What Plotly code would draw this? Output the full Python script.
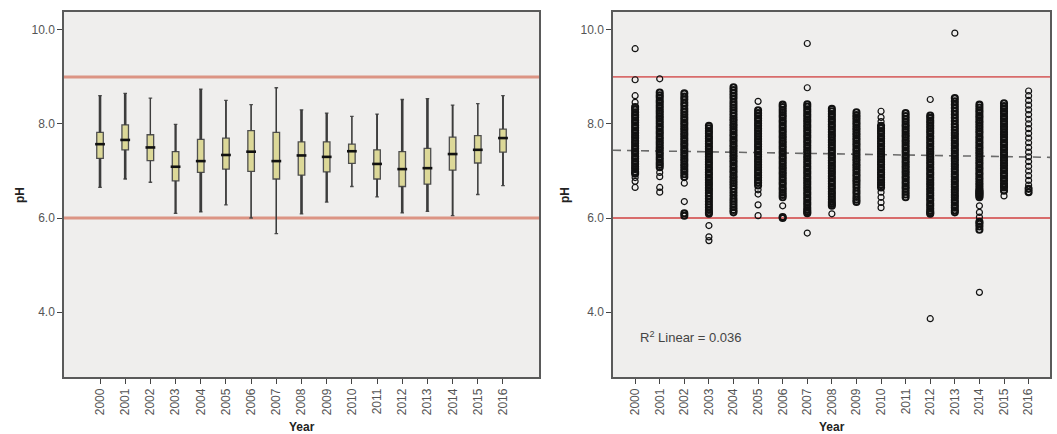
import plotly.graph_objects as go

# ---------------- data ----------------
years = list(range(2000, 2017))
year_labels = [str(y) for y in years]

# Box plot statistics (left panel)
box_upper = [8.60, 8.65, 8.55, 7.99, 8.74, 8.50, 8.41, 8.77, 8.30, 8.23, 8.16, 8.21, 8.52, 8.54, 8.40, 8.43, 8.60]
box_q3 = [7.82, 7.98, 7.77, 7.41, 7.67, 7.70, 7.86, 7.82, 7.62, 7.62, 7.57, 7.45, 7.41, 7.48, 7.72, 7.75, 7.89]
box_median = [7.57, 7.66, 7.50, 7.09, 7.21, 7.34, 7.41, 7.21, 7.33, 7.30, 7.42, 7.15, 7.04, 7.06, 7.36, 7.45, 7.70]
box_q1 = [7.27, 7.45, 7.22, 6.79, 6.97, 7.04, 6.99, 6.83, 6.91, 6.98, 7.16, 6.83, 6.67, 6.72, 7.02, 7.17, 7.40]
box_lower = [6.65, 6.83, 6.76, 6.10, 6.13, 6.28, 6.00, 5.67, 6.09, 6.34, 6.67, 6.45, 6.11, 6.14, 6.05, 6.50, 6.69]

# Individual pH readings (right panel)
y2000 = [9.60, 8.94, 8.60, 8.46, 8.36, 8.31, 8.25, 8.19, 8.14, 8.08, 8.03, 7.97, 7.92, 7.86, 7.81, 7.75, 7.70, 7.64, 7.59, 7.53, 7.48, 7.42, 7.37, 7.31, 7.26, 7.20, 7.15, 7.09, 7.04, 6.98, 6.94, 6.86, 6.78, 6.65]
y2001 = [8.96, 8.67, 8.61, 8.56, 8.50, 8.45, 8.39, 8.34, 8.28, 8.23, 8.17, 8.12, 8.06, 8.01, 7.95, 7.90, 7.84, 7.79, 7.73, 7.68, 7.62, 7.57, 7.51, 7.46, 7.40, 7.35, 7.29, 7.24, 7.18, 7.13, 7.08, 6.97, 6.88, 6.65, 6.55]
y2002 = [8.65, 8.58, 8.52, 8.45, 8.39, 8.32, 8.26, 8.20, 8.14, 8.09, 8.03, 7.98, 7.92, 7.87, 7.81, 7.76, 7.70, 7.65, 7.59, 7.54, 7.48, 7.43, 7.37, 7.32, 7.26, 7.21, 7.15, 7.10, 7.04, 6.99, 6.93, 6.87, 6.74, 6.35, 6.10, 6.05]
y2003 = [7.96, 7.91, 7.85, 7.80, 7.74, 7.69, 7.63, 7.58, 7.52, 7.47, 7.41, 7.36, 7.30, 7.25, 7.19, 7.14, 7.08, 7.03, 6.97, 6.92, 6.86, 6.81, 6.75, 6.70, 6.64, 6.59, 6.53, 6.47, 6.41, 6.35, 6.29, 6.23, 6.17, 6.12, 6.09, 5.84, 5.60, 5.52]
y2004 = [8.78, 8.72, 8.66, 8.60, 8.54, 8.47, 8.41, 8.35, 8.29, 8.23, 8.17, 8.11, 8.06, 8.00, 7.95, 7.89, 7.84, 7.78, 7.73, 7.67, 7.62, 7.56, 7.51, 7.45, 7.40, 7.34, 7.29, 7.23, 7.18, 7.12, 7.07, 7.01, 6.96, 6.90, 6.85, 6.79, 6.74, 6.68, 6.62, 6.55, 6.48, 6.41, 6.35, 6.29, 6.23, 6.17, 6.12]
y2005 = [8.48, 8.29, 8.23, 8.18, 8.12, 8.07, 8.01, 7.96, 7.90, 7.85, 7.79, 7.74, 7.68, 7.63, 7.57, 7.52, 7.46, 7.41, 7.35, 7.30, 7.24, 7.19, 7.13, 7.08, 7.02, 6.97, 6.91, 6.86, 6.80, 6.75, 6.69, 6.60, 6.51, 6.28, 6.05]
y2006 = [8.41, 8.36, 8.30, 8.25, 8.19, 8.14, 8.08, 8.03, 7.97, 7.92, 7.86, 7.81, 7.75, 7.70, 7.64, 7.59, 7.53, 7.48, 7.42, 7.37, 7.31, 7.26, 7.20, 7.15, 7.09, 7.04, 6.98, 6.93, 6.87, 6.82, 6.76, 6.71, 6.65, 6.60, 6.54, 6.49, 6.44, 6.26, 6.02, 6.00]
y2007 = [9.71, 8.77, 8.42, 8.37, 8.31, 8.26, 8.20, 8.15, 8.09, 8.04, 7.98, 7.93, 7.87, 7.82, 7.76, 7.71, 7.65, 7.60, 7.54, 7.49, 7.43, 7.38, 7.32, 7.27, 7.21, 7.16, 7.10, 7.05, 6.99, 6.94, 6.88, 6.83, 6.77, 6.72, 6.66, 6.61, 6.55, 6.50, 6.44, 6.39, 6.33, 6.28, 6.22, 6.17, 6.13, 6.10, 5.68]
y2008 = [8.32, 8.27, 8.21, 8.16, 8.10, 8.05, 7.99, 7.94, 7.88, 7.83, 7.77, 7.72, 7.66, 7.61, 7.55, 7.50, 7.44, 7.39, 7.33, 7.28, 7.22, 7.17, 7.11, 7.06, 7.00, 6.95, 6.89, 6.84, 6.78, 6.73, 6.67, 6.62, 6.56, 6.51, 6.45, 6.40, 6.34, 6.30, 6.26, 6.09]
y2009 = [8.25, 8.19, 8.14, 8.09, 8.03, 7.98, 7.92, 7.87, 7.81, 7.76, 7.70, 7.65, 7.59, 7.54, 7.48, 7.43, 7.37, 7.32, 7.26, 7.21, 7.15, 7.10, 7.04, 6.99, 6.93, 6.88, 6.82, 6.77, 6.71, 6.65, 6.58, 6.52, 6.45, 6.39, 6.34]
y2010 = [8.27, 8.14, 8.05, 7.96, 7.91, 7.85, 7.80, 7.74, 7.69, 7.63, 7.58, 7.52, 7.47, 7.41, 7.36, 7.30, 7.25, 7.19, 7.14, 7.08, 7.03, 6.97, 6.92, 6.86, 6.81, 6.75, 6.70, 6.65, 6.55, 6.44, 6.33, 6.22]
y2011 = [8.23, 8.17, 8.11, 8.05, 7.99, 7.94, 7.88, 7.83, 7.77, 7.72, 7.66, 7.61, 7.55, 7.50, 7.44, 7.39, 7.33, 7.28, 7.22, 7.17, 7.11, 7.06, 7.00, 6.95, 6.89, 6.84, 6.78, 6.73, 6.67, 6.62, 6.56, 6.50, 6.44]
y2012 = [8.52, 8.18, 8.13, 8.07, 8.02, 7.96, 7.91, 7.85, 7.80, 7.74, 7.69, 7.63, 7.58, 7.52, 7.47, 7.41, 7.36, 7.30, 7.25, 7.19, 7.14, 7.08, 7.03, 6.97, 6.92, 6.86, 6.81, 6.75, 6.70, 6.64, 6.59, 6.53, 6.48, 6.42, 6.37, 6.31, 6.26, 6.20, 6.15, 6.11, 6.09, 3.86]
y2013 = [9.93, 8.55, 8.48, 8.41, 8.34, 8.27, 8.20, 8.13, 8.06, 7.99, 7.93, 7.87, 7.81, 7.76, 7.70, 7.65, 7.59, 7.54, 7.48, 7.43, 7.37, 7.32, 7.26, 7.21, 7.15, 7.10, 7.04, 6.99, 6.93, 6.88, 6.82, 6.77, 6.71, 6.66, 6.60, 6.55, 6.49, 6.44, 6.38, 6.33, 6.27, 6.22, 6.16, 6.12]
y2014 = [8.41, 8.35, 8.29, 8.24, 8.18, 8.13, 8.07, 8.02, 7.96, 7.91, 7.85, 7.80, 7.74, 7.69, 7.63, 7.58, 7.52, 7.47, 7.41, 7.36, 7.30, 7.25, 7.19, 7.14, 7.08, 7.03, 6.97, 6.92, 6.86, 6.81, 6.75, 6.70, 6.65, 6.60, 6.57, 6.55, 6.52, 6.50, 6.47, 6.44, 6.26, 6.12, 6.02, 5.92, 5.88, 5.82, 5.75, 4.42]
y2015 = [8.44, 8.38, 8.33, 8.27, 8.22, 8.16, 8.11, 8.05, 8.00, 7.94, 7.89, 7.83, 7.78, 7.72, 7.67, 7.61, 7.56, 7.50, 7.45, 7.39, 7.34, 7.28, 7.23, 7.17, 7.12, 7.06, 7.01, 6.95, 6.90, 6.84, 6.79, 6.73, 6.68, 6.65, 6.58, 6.47]
y2016 = [8.70, 8.60, 8.50, 8.40, 8.30, 8.20, 8.10, 8.00, 7.90, 7.80, 7.70, 7.60, 7.50, 7.40, 7.30, 7.20, 7.10, 7.00, 6.90, 6.80, 6.70, 6.62, 6.55]
ph_by_year = [y2000, y2001, y2002, y2003, y2004, y2005, y2006, y2007, y2008,
              y2009, y2010, y2011, y2012, y2013, y2014, y2015, y2016]

# Linear fit line and guideline limits
fit_years = [1999.1, 2016.9]
fit_ph = [7.44, 7.29]
r2_text = "R<sup>2</sup> Linear = 0.036"
limits = [6.0, 9.0]
yticks = [4.0, 6.0, 8.0, 10.0]

# ---------------- styles ----------------
whisker_w = [2.6, 2.6, 1.1, 2.2, 2.8, 1.6, 1.2, 1.3, 2.6, 2.4, 1.1, 1.8, 2.6, 2.6, 1.8, 1.1, 1.8]
FONT = "Liberation Sans, Arial, sans-serif"
W, H = 1057, 434

fig = go.Figure()

# Left: box plots
for i, yr in enumerate(years):
    fig.add_trace(go.Box(
        x=[yr], q1=[box_q1[i]], median=[box_median[i]], q3=[box_q3[i]],
        lowerfence=[box_lower[i]], upperfence=[box_upper[i]],
        width=0.26, whiskerwidth=0.55, boxpoints=False,
        fillcolor="#dcd898", line=dict(color="#4f4f4f", width=1.3),
        xaxis="x", yaxis="y", showlegend=False, hoverinfo="skip"))
    # whisker stems drawn with per-year thickness
    fig.add_trace(go.Scatter(
        x=[yr, yr, None, yr, yr], y=[box_lower[i], box_q1[i], None, box_q3[i], box_upper[i]],
        mode="lines", line=dict(color="#3c3c3c", width=whisker_w[i]),
        xaxis="x", yaxis="y", showlegend=False, hoverinfo="skip"))
fig.add_trace(go.Scatter(
    x=years, y=box_median, mode="markers", xaxis="x", yaxis="y",
    marker=dict(symbol="line-ew", size=7, line=dict(width=2.6, color="#111111")),
    showlegend=False, hoverinfo="skip"))

# Right: scatter of readings
xs, ys, lws = [], [], []
for yr, vals in zip(years, ph_by_year):
    for j, v in enumerate(vals):
        gaps = [abs(v - vals[k]) for k in (j - 1, j + 1) if 0 <= k < len(vals)]
        dense = min(gaps) <= 0.075 if gaps else False
        xs.append(yr)
        ys.append(v)
        lws.append(2.1 if dense else 1.2)
fig.add_trace(go.Scatter(
    x=fit_years, y=fit_ph, mode="lines", xaxis="x2", yaxis="y2",
    line=dict(color="#6a6a6a", width=1.6, dash="8px,6px"),
    showlegend=False, hoverinfo="skip"))
fig.add_trace(go.Scatter(
    x=xs, y=ys, mode="markers", xaxis="x2", yaxis="y2",
    marker=dict(symbol="circle-open", size=6, color="#111111",
                line=dict(width=lws, color="#111111")),
    showlegend=False, hoverinfo="skip"))

# Limit lines
for lim in limits:
    fig.add_shape(type="line", xref="x domain", yref="y", x0=0, x1=1, y0=lim, y1=lim,
                  line=dict(color="#dc9484", width=3), layer="below")
    fig.add_shape(type="line", xref="x2 domain", yref="y2", x0=0, x1=1, y0=lim, y1=lim,
                  line=dict(color="#d86b6b", width=1.8), layer="below")

# Axes geometry (pixels -> paper)
L1, R1 = 64, 539
L2, R2 = 613, 1050
TOP, BOT = 12, 377
ydom = [1 - BOT / H, 1 - TOP / H]

common_x = dict(showgrid=False, zeroline=False, showline=True, mirror=True,
                linecolor="#5a5a5a", linewidth=1.5, ticks="outside", ticklen=5,
                tickcolor="#444444", tickvals=years, ticktext=year_labels,
                tickangle=-90, tickfont=dict(family=FONT, size=12, color="#555555"))
common_y = dict(showgrid=False, zeroline=False, showline=True, mirror=True,
                linecolor="#5a5a5a", linewidth=1.5, ticks="outside", ticklen=5,
                tickcolor="#444444", tickvals=yticks, tickformat=".1f",
                range=[2.62, 10.38], domain=ydom,
                tickfont=dict(family=FONT, size=12, color="#555555"))

title_font = dict(size=12, color="#222222")
fig.update_layout(
    width=W, height=H,
    margin=dict(l=0, r=0, t=0, b=0),
    paper_bgcolor="white", plot_bgcolor="#efeeed",
    font=dict(family=FONT),
    xaxis=dict(common_x, domain=[L1 / W, R1 / W], range=[1998.57, 2017.43], anchor="y"),
    yaxis=dict(common_y, anchor="x"),
    xaxis2=dict(common_x, domain=[L2 / W, R2 / W], range=[1999.1, 2016.87], anchor="y2"),
    yaxis2=dict(common_y, anchor="x2"),
    annotations=[
        dict(text="<b>pH</b>", x=20 / W, y=1 - 195 / H, xref="paper", yref="paper",
             xanchor="center", yanchor="middle",
             textangle=-90, showarrow=False, font=title_font),
        dict(text="<b>pH</b>", x=565 / W, y=1 - 195 / H, xref="paper", yref="paper",
             xanchor="center", yanchor="middle",
             textangle=-90, showarrow=False, font=title_font),
        dict(text="<b>Year</b>", x=(L1 + R1) / 2 / W, y=1 - 427 / H, xref="paper", yref="paper",
             xanchor="center", yanchor="middle", showarrow=False, font=title_font),
        dict(text="<b>Year</b>", x=(L2 + R2) / 2 / W, y=1 - 427 / H, xref="paper", yref="paper",
             xanchor="center", yanchor="middle", showarrow=False, font=title_font),
        dict(text=r2_text, x=2000.12, y=3.47, xref="x2", yref="y2",
             xanchor="left", yanchor="middle",
             showarrow=False, font=dict(size=13, color="#444444")),
    ],
)

fig.write_html("out.html", config={"displayModeBar": False},
               post_script="document.body.style.margin='0';document.body.style.overflow='hidden';")
